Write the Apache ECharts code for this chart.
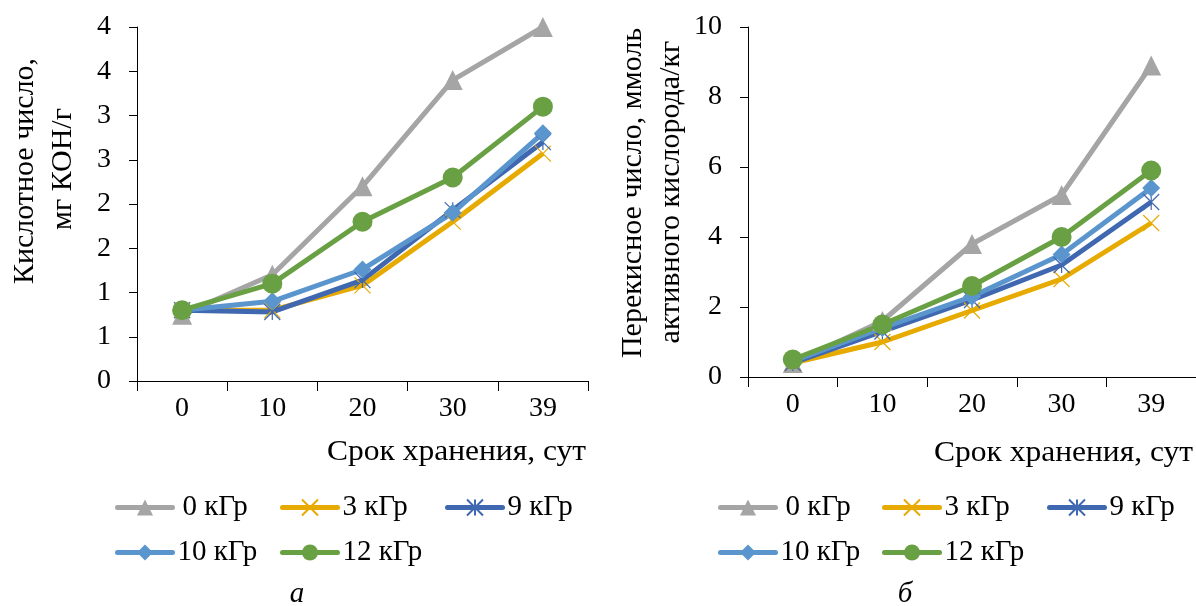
<!DOCTYPE html>
<html>
<head>
<meta charset="utf-8">
<script src="https://cdn.jsdelivr.net/npm/echarts@6/dist/echarts.min.js"></script>
<style>
  html, body { margin: 0; padding: 0; background: #fff; }
  #chart { width: 1196px; height: 606px; }
</style>
</head>
<body>
<div id="chart"></div>
<script>
// срок хранения, сут
const days = ['0', '10', '20', '30', '39'];
// подписи оси (Excel округляет 0.5 до целых)
const acidTickLabels = ['0', '1', '1', '2', '2', '3', '3', '4', '4'];
const peroxTickLabels = ['0', '2', '4', '6', '8', '10'];

const doseNames = ['0 кГр', '3 кГр', '9 кГр', '10 кГр', '12 кГр'];

// а — кислотное число, мг КОН/г
const acid0 = [0.75, 1.2, 2.2, 3.4, 4.0];
const acid3 = [0.8, 0.8, 1.08, 1.8, 2.57];
const acid9 = [0.8, 0.78, 1.14, 1.93, 2.7];
const acid10 = [0.8, 0.9, 1.26, 1.9, 2.8];
const acid12 = [0.8, 1.1, 1.8, 2.3, 3.1];

// б — перекисное число, ммоль активного кислорода/кг
const perox0 = [0.4, 1.6, 3.8, 5.2, 8.9];
const perox3 = [0.4, 1.0, 1.9, 2.8, 4.4];
const perox9 = [0.4, 1.3, 2.2, 3.2, 5.0];
const perox10 = [0.45, 1.4, 2.3, 3.5, 5.4];
const perox12 = [0.5, 1.5, 2.6, 4.0, 5.9];

const FONT = '"Liberation Serif", "Times New Roman", serif';

const seriesStyle = {
    '0 кГр': { color: '#A5A5A5', symbol: 'triangle', size: 20 },
    '3 кГр': { color: '#E6AA00', symbol: 'path://M0,0L10,10M10,0L0,10', size: 16, stroke: true },
    '9 кГр': { color: '#4068B0', symbol: 'path://M5,0L5,10M0,0L10,10M10,0L0,10', size: 16, stroke: true },
    '10 кГр': { color: '#5A96CD', symbol: 'diamond', size: 18 },
    '12 кГр': { color: '#68A043', symbol: 'circle', size: 20 }
};

function makeSeries(name, data, idx) {
    const st = seriesStyle[name];
    return {
        name: name,
        type: 'line',
        xAxisIndex: idx,
        yAxisIndex: idx,
        data: data,
        symbol: st.symbol,
        symbolSize: st.size,
        showAllSymbol: true,
        lineStyle: { color: st.color, width: 5 },
        itemStyle: st.stroke
            ? { color: st.color, borderColor: st.color, borderWidth: 1.2 }
            : { color: st.color, borderWidth: 0 },
        emphasis: { disabled: true },
        animation: false
    };
}

function makeXAxis(gridIndex) {
    return {
        type: 'category',
        gridIndex: gridIndex,
        data: days,
        boundaryGap: true,
        axisLine: { lineStyle: { color: '#000', width: 1 } },
        axisTick: { show: true, inside: false, length: 10, lineStyle: { color: '#000' } },
        axisLabel: { color: '#000', fontFamily: FONT, fontSize: 28, margin: 14 },
        splitLine: { show: false }
    };
}

function makeYAxis(gridIndex, max, interval, labels) {
    return {
        type: 'value',
        gridIndex: gridIndex,
        min: 0,
        max: max,
        interval: interval,
        axisLine: { show: true, lineStyle: { color: '#000', width: 1 } },
        axisTick: { show: true, inside: false, length: 8, lineStyle: { color: '#000' } },
        axisLabel: {
            color: '#000', fontFamily: FONT, fontSize: 28, margin: 26,
            formatter: function (v) { return labels[Math.round(v / interval)]; }
        },
        splitLine: { show: false }
    };
}

// отдельная легенда на каждый пункт, чтобы колонки стояли как в Excel
function makeLegend(name, left, top, textPad) {
    return {
        data: [name],
        left: left,
        top: top,
        padding: 0,
        itemWidth: 55,
        itemHeight: 20,
        itemGap: 0,
        selectedMode: false,
        lineStyle: { width: 5, cap: 'round' },
        textStyle: { color: '#000', fontFamily: FONT, fontSize: 29, padding: [0, 0, 0, textPad] }
    };
}

const acidSets = [acid0, acid3, acid9, acid10, acid12];
const peroxSets = [perox0, perox3, perox9, perox10, perox12];

const series = [];
doseNames.forEach((n, i) => series.push(makeSeries(n, acidSets[i], 0)));
doseNames.forEach((n, i) => series.push(makeSeries(n, peroxSets[i], 1)));

function textEl(str, x, y, opts) {
    return Object.assign({
        type: 'text',
        x: x,
        y: y,
        style: Object.assign({
            text: str,
            fill: '#000',
            font: '30px ' + FONT,
            align: 'center',
            verticalAlign: 'middle'
        }, opts && opts.style)
    }, opts && opts.el);
}

const myChart = echarts.init(document.getElementById('chart'), null, { renderer: 'canvas' });

const option = {
    animation: false,
    grid: [
        { left: 137, top: 27, width: 451, height: 354 },
        { left: 748, top: 27, width: 452, height: 350 }
    ],
    xAxis: [makeXAxis(0), makeXAxis(1)],
    yAxis: [
        makeYAxis(0, 4, 0.5, acidTickLabels),
        makeYAxis(1, 10, 2, peroxTickLabels)
    ],
    legend: [
        makeLegend('0 кГр', 115, 493, 5),
        makeLegend('3 кГр', 280, 493, 0),
        makeLegend('9 кГр', 445, 493, 0),
        makeLegend('10 кГр', 115, 538, 0),
        makeLegend('12 кГр', 280, 538, 0),
        makeLegend('0 кГр', 718, 493, 5),
        makeLegend('3 кГр', 882, 493, 0),
        makeLegend('9 кГр', 1047, 493, 0),
        makeLegend('10 кГр', 718, 538, 0),
        makeLegend('12 кГр', 882, 538, 0)
    ],
    graphic: [
        textEl('Кислотное число,', 25, 171, { el: { rotation: Math.PI / 2 } }),
        textEl('мг КОН/г', 63, 169, { el: { rotation: Math.PI / 2 } }),
        textEl('Перекисное число, ммоль', 633, 193, { el: { rotation: Math.PI / 2 } }),
        textEl('активного кислорода/кг', 671, 192, { el: { rotation: Math.PI / 2 } }),
        textEl('Срок хранения, сут', 586, 452, { style: { align: 'right' }, el: { scaleX: 1.05 } }),
        textEl('Срок хранения, сут', 934, 453, { style: { align: 'left' }, el: { scaleX: 1.05 } }),
        textEl('а', 297, 594, { style: { font: 'italic 29px ' + FONT } }),
        textEl('б', 905, 594, { style: { font: 'italic 29px ' + FONT } })
    ],
    series: series
};

myChart.setOption(option);
window.addEventListener('resize', () => myChart.resize());
</script>
</body>
</html>
